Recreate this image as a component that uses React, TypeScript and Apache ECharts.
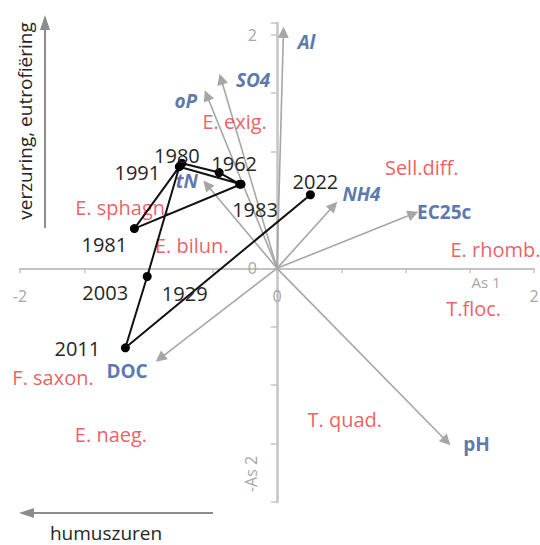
import React, { useEffect, useRef } from "react";
import * as echarts from "echarts";

// Site scores (years), in plotting order (trajectory)
const years = ["1929", "1962", "1980", "1981", "1983", "1991", "2003", "2011", "2022"];
const yearX = [-0.29, -0.45, -0.74, -1.11, -0.28, -0.76, -1.01, -1.18, 0.26];
const yearY = [0.72, 0.82, 0.9, 0.34, 0.72, 0.87, -0.07, -0.68, 0.63];
const yearLabelOffset = [[-55, 109], [15, -9], [-5, -8], [-30, 16], [14, 25], [-42, 6], [-42, 16], [-48, 1], [5, -13]];

// Environmental variables (arrows from origin)
const variables = ["Al", "SO4", "oP", "tN", "NH4", "EC25c", "pH", "DOC"];
const varX = [0.05, -0.435, -0.546, -0.546, 0.44, 1.06, 1.32, -0.91];
const varY = [2.02, 1.62, 1.48, 0.715, 0.535, 0.467, -1.48, -0.77];
const varItalic = [true, true, true, true, true, false, false, false];
const varLabelOffset = [[23, 10], [32, 1], [-21, 6], [-20, -4], [28, -12], [31, -2], [30, 3], [-33, 13]];

// Species scores
const species = ["E. exig.", "Sell.diff.", "E. sphagn.", "E. bilun.", "E. rhomb.", "T.floc.", "F. saxon.", "E. naeg.", "T. quad."];
const speciesX = [-0.33, 1.126, -1.2, -0.663, 1.7, 1.53, -1.743, -1.292, 0.527];
const speciesY = [1.255, 0.861, 0.518, 0.193, 0.158, -0.34, -0.938, -1.426, -1.298];

// Axis ranges and labels
const xMin = -2, xMax = 2;
const yMin = -2, yMax = 2.1;
const xTickLabels = ["-2", "0", "2"];
const yTickLabels = ["2", "0"];

const FONT = "'Open Sans', sans-serif";
const BLUE = "#2f5597";
const RED = "#e8363c";
const GRAY_AXIS = "#c4c4c4";
const GRAY_ARROW = "#a6a6a6";
const GRAY_TEXT = "#a6a6a6";

const W = 540, H = 545;
const G = { left: 20, right: 6, top: 23, bottom: 43 };

export default function App() {
  const ref = useRef<HTMLDivElement>(null);

  useEffect(() => {
    if (!ref.current) return;
    const chart = echarts.init(ref.current, undefined, { renderer: "svg" });

    const gw = W - G.left - G.right;
    const gh = H - G.top - G.bottom;
    // place axes through the origin (offset from the grid edges)
    const zeroXpx = G.left + ((0 - xMin) / (xMax - xMin)) * gw;
    const zeroYpx = G.top + ((yMax - 0) / (yMax - yMin)) * gh;
    const xAxisOffset = -(H - G.bottom - zeroYpx);
    const yAxisOffset = -(zeroXpx - G.left);

    const option: any = {
      animation: false,
      backgroundColor: "#ffffff",
      textStyle: { fontFamily: FONT },
      grid: { ...G, containLabel: false, outerBoundsMode: "none" },
      xAxis: {
        type: "value",
        position: "bottom",
        offset: xAxisOffset,
        min: xMin,
        max: xMax,
        interval: 0.5,
        splitLine: { show: false },
        axisLine: { onZero: false, lineStyle: { color: GRAY_AXIS, width: 2 } },
        axisTick: { show: true, length: 5, lineStyle: { color: GRAY_AXIS, width: 1.5 } },
        axisLabel: {
          margin: 20,
          fontSize: 16,
          color: GRAY_TEXT,
          showMinLabel: true,
          showMaxLabel: true,
          formatter: (v: number) => {
            const s = String(Math.round(v * 100) / 100);
            return xTickLabels.includes(s) ? s : "";
          },
        },
      },
      yAxis: {
        type: "value",
        position: "left",
        offset: yAxisOffset,
        min: yMin,
        max: yMax,
        interval: 0.5,
        splitLine: { show: false },
        axisLine: { onZero: false, lineStyle: { color: GRAY_AXIS, width: 2.5 } },
        axisTick: { show: true, length: 6, lineStyle: { color: GRAY_AXIS, width: 1.5 } },
        axisLabel: {
          margin: 20,
          fontSize: 16,
          color: GRAY_TEXT,
          formatter: (v: number) => {
            const s = String(Math.round(v * 100) / 100);
            return yTickLabels.includes(s) ? s : "";
          },
        },
      },
      series: [
        {
          type: "lines",
          name: "vectors",
          coordinateSystem: "cartesian2d",
          silent: true,
          symbol: ["none", "triangle"],
          symbolSize: 11,
          lineStyle: { color: GRAY_ARROW, width: 1.6, opacity: 1 },
          data: variables.map((v, i) => ({ name: v, coords: [[0, 0], [varX[i], varY[i]]] })),
          z: 2,
        },
        {
          type: "scatter",
          name: "variable labels",
          symbolSize: 1,
          itemStyle: { color: "rgba(0,0,0,0)" },
          silent: true,
          z: 3,
          data: variables.map((v, i) => ({
            name: v,
            value: [varX[i], varY[i]],
            label: {
              show: true,
              position: "inside",
              offset: varLabelOffset[i],
              formatter: "{b}",
              color: BLUE,
              fontSize: 19,
              fontWeight: "bold",
              fontStyle: varItalic[i] ? "italic" : "normal",
              fontFamily: FONT,
            },
          })),
        },
        {
          type: "scatter",
          name: "species",
          symbolSize: 1,
          itemStyle: { color: "rgba(0,0,0,0)" },
          silent: true,
          z: 3,
          data: species.map((s, i) => ({
            name: s,
            value: [speciesX[i], speciesY[i]],
            label: {
              show: true,
              position: "inside",
              formatter: "{b}",
              color: RED,
              fontSize: 20,
              fontFamily: FONT,
            },
          })),
        },
        {
          type: "line",
          name: "trajectory",
          symbol: "circle",
          symbolSize: 9,
          itemStyle: { color: "#000000" },
          lineStyle: { color: "#111111", width: 2 },
          z: 4,
          data: years.map((y, i) => ({
            name: y,
            value: [yearX[i], yearY[i]],
            label: {
              show: true,
              position: "inside",
              offset: yearLabelOffset[i],
              formatter: "{b}",
              color: "#262626",
              fontSize: 20,
              fontFamily: FONT,
            },
          })),
        },
      ],
      graphic: [
        // vertical arrow + title
        { type: "line", shape: { x1: 45, y1: 228, x2: 45, y2: 29 }, style: { stroke: "#8c8c8c", lineWidth: 2 } },
        { type: "polygon", shape: { points: [[45, 15], [40, 30], [50, 30]] }, style: { fill: "#8c8c8c" } },
        {
          type: "text",
          x: 25,
          y: 121,
          rotation: Math.PI / 2,
          style: {
            text: "verzuring, eutrofiëring",
            fill: "#262626",
            font: `19px ${FONT}`,
            align: "center",
            verticalAlign: "middle",
          },
        },
        // horizontal arrow + title
        { type: "line", shape: { x1: 213, y1: 513, x2: 33, y2: 513 }, style: { stroke: "#8c8c8c", lineWidth: 2 } },
        { type: "polygon", shape: { points: [[19, 513], [34, 508], [34, 518]] }, style: { fill: "#8c8c8c" } },
        {
          type: "text",
          x: 106,
          y: 533,
          style: {
            text: "humuszuren",
            fill: "#262626",
            font: `19px ${FONT}`,
            align: "center",
            verticalAlign: "middle",
          },
        },
        // axis names
        {
          type: "text",
          x: 486,
          y: 282,
          style: { text: "As 1", fill: GRAY_TEXT, font: `15px ${FONT}`, align: "center", verticalAlign: "middle" },
        },
        {
          type: "text",
          x: 251,
          y: 474,
          rotation: Math.PI / 2,
          style: { text: "-As 2", fill: GRAY_TEXT, font: `16px ${FONT}`, align: "center", verticalAlign: "middle" },
        },
      ],
    };

    chart.setOption(option);
    return () => chart.dispose();
  }, []);

  return (
    <div
      ref={ref}
      style={{ position: "fixed", left: 0, top: 0, width: W, height: H, background: "#fff" }}
    />
  );
}
